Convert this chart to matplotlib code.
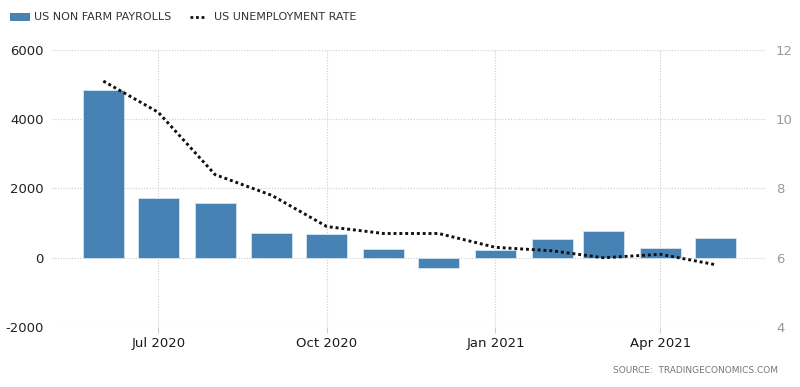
import matplotlib
matplotlib.use("Agg")
import matplotlib.pyplot as plt
from matplotlib.patches import Rectangle
from matplotlib.lines import Line2D
import datetime as dt

# monthly data, Jun 2020 .. May 2021
months = ["2020-06-01", "2020-07-01", "2020-08-01", "2020-09-01", "2020-10-01", "2020-11-01",
          "2020-12-01", "2021-01-01", "2021-02-01", "2021-03-01", "2021-04-01", "2021-05-01"]
payrolls = [4846, 1726, 1583, 716, 680, 264, -306, 233, 536, 785, 269, 583]
unemployment = [11.1, 10.2, 8.4, 7.8, 6.9, 6.7, 6.7, 6.3, 6.2, 6.0, 6.1, 5.8]

tick_dates = ["2020-07-01", "2020-10-01", "2021-01-01", "2021-04-01"]
tick_labels = ["Jul 2020", "Oct 2020", "Jan 2021", "Apr 2021"]
left_ticks = [-2000, 0, 2000, 4000, 6000]
right_ticks = [4, 6, 8, 10, 12]

dates = [dt.datetime.strptime(d, "%Y-%m-%d") for d in months]
xt = [dt.datetime.strptime(d, "%Y-%m-%d") for d in tick_dates]

bar_color = "#4682b4"
grid_kw = dict(color="#cccccc", linestyle=(0, (1, 1.5)), linewidth=0.8)

fig = plt.figure(figsize=(8, 3.87), dpi=100)
ax = fig.add_axes([0.065, 0.155, 0.891, 0.716])
ax2 = ax.twinx()

ax.bar(dates, payrolls, width=22.4, color=bar_color, edgecolor="#d6e4f0", linewidth=0.6, zorder=3)
ax.set_ylim(-2000, 6000)
ax.set_yticks(left_ticks)
ax.set_yticklabels([str(v) for v in left_ticks])
ax.set_xlim(dt.datetime(2020, 5, 4), dt.datetime(2021, 5, 28))
ax.set_xticks(xt)
ax.set_xticklabels(tick_labels)

for y in left_ticks:
    ax.axhline(y, zorder=1, **grid_kw)
for x in xt:
    ax.axvline(x, zorder=1, **grid_kw)

ax2.plot(dates, unemployment, color="#111111", linestyle=(0, (1, 1)), linewidth=2.1, zorder=4)
ax2.set_ylim(4, 12)
ax2.set_yticks(right_ticks)
ax2.set_yticklabels([str(v) for v in right_ticks])

for a in (ax, ax2):
    for s in a.spines.values():
        s.set_visible(False)

ax.tick_params(axis="y", length=0, pad=6, labelsize=9.5, labelcolor="#222222")
ax.tick_params(axis="x", length=4, color="#cccccc", pad=3, labelsize=9.5, labelcolor="#1a1a1a")
ax2.tick_params(axis="y", length=0, pad=8, labelsize=9.5, labelcolor="#999999")

# legend at top
fig.patches.append(Rectangle((0.012, 0.947), 0.026, 0.02, transform=fig.transFigure,
                             facecolor=bar_color, edgecolor="none"))
fig.text(0.043, 0.957, "US NON FARM PAYROLLS", fontsize=8, color="#333333", va="center")
fig.lines.append(Line2D([0.237, 0.257], [0.957, 0.957], transform=fig.transFigure,
                        color="#111111", linestyle=(0, (1, 1)), linewidth=2))
fig.text(0.268, 0.957, "US UNEMPLOYMENT RATE", fontsize=8, color="#333333", va="center")

fig.text(0.973, 0.035, "SOURCE:  TRADINGECONOMICS.COM", fontsize=6.5, color="#777777", ha="right")

fig.savefig("out.png", dpi=100)
